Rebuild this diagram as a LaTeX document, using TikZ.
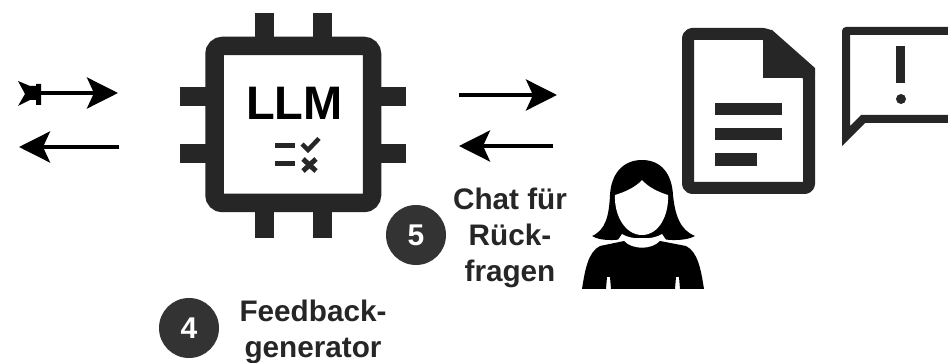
\documentclass[tikz,border=0pt]{standalone}
\usepackage{fontspec}
\setmainfont{Liberation Sans}
\usetikzlibrary{arrows.meta}
\definecolor{ink}{HTML}{262626}
\definecolor{badge}{HTML}{333333}
\tikzset{
  x=1pt,y=-1pt,
  flow/.style={line width=4pt,black,-{Stealth[length=31pt,width=31pt,inset=7pt]}},
  pin/.style={fill=ink,draw=none},
  badgenode/.style={circle,fill=badge,text=white,minimum size=60pt,inner sep=0pt,font=\bfseries\fontsize{30}{30}\selectfont},
  caption/.style={align=center,inner sep=0pt,text=ink,font=\bfseries\fontsize{29.7}{36}\selectfont}
}
\begin{document}
\begin{tikzpicture}
\useasboundingbox (0,0) rectangle (948,363);
\fill[white] (0,0) rectangle (948,363);
% chip pins
\foreach \a in {255,313}{\fill[pin] (\a,13) rectangle (\a+19,40); \fill[pin] (\a,208) rectangle (\a+19,238);}
\foreach \b in {87,144}{\fill[pin] (180,\b) rectangle (208,\b+19); \fill[pin] (378,\b) rectangle (406,\b+19);}
% chip body
\draw[ink,line width=18.5pt,rounded corners=8pt,fill=white] (214.5,46) rectangle (372,203);
\node[inner sep=0pt,anchor=base,font=\bfseries\fontsize{47}{47}\selectfont,text=black] (llm) at (294.5,120) {LLM};
% checklist icon
\draw[ink,line width=4.5pt] (275,145.5) -- (295,145.5) (275,163.5) -- (295,163.5);
\draw[ink,line width=4.5pt] (302,144) -- (308,150) -- (319,138.5);
\draw[ink,line width=5pt] (303,159) -- (316,171) (316,159) -- (303,171);
% arrows
\coordinate (a1s) at (38,93); \coordinate (a1e) at (118,93);
\coordinate (a2s) at (119,147); \coordinate (a2e) at (19,147);
\coordinate (a3s) at (459,95); \coordinate (a3e) at (557,95);
\coordinate (a4s) at (553,146); \coordinate (a4e) at (459,146);
\draw[flow] (a1s) -- (a1e);
\draw[flow] (a2s) -- (a2e);
\draw[flow] (a3s) -- (a3e);
\draw[flow] (a4s) -- (a4e);
% feathered tail
\fill[black] (18,81) -- (30,86) -- (36,86) -- (36,84) -- (41,84) -- (41,105) -- (36,105) -- (36,100) -- (30,100) -- (18,106) -- (25,94) -- cycle;
% document
\draw[ink,line width=12pt,line join=round,rounded corners=4pt,fill=white] (688,34) -- (767,34) -- (809,75) -- (809,188) -- (688,188) -- cycle;
\fill[ink] (763,30) -- (772,30) -- (815,68) -- (815,78) -- (763,78) -- cycle;
\fill[ink] (715,103) rectangle (782,115);
\fill[ink] (715,128) rectangle (782,140);
\fill[ink] (715,153) rectangle (757,166);
% speech bubble
\fill[ink] (948,27) -- (846,27) to[out=180,in=90] (842,31) -- (842,146) -- (865,123) -- (948,123) -- (948,115) -- (861,115) -- (850,126) -- (850,35) -- (948,35) -- cycle;
\fill[ink] (896,46) rectangle (905,83);
\fill[ink] (901,99) circle[radius=5];
% person: hair
\fill[black] (642,160) .. controls (622,160) and (611,175) .. (610,195)
  .. controls (609,215) and (606,230) .. (592,236)
  .. controls (600,241) and (615,241) .. (628,238)
  -- (656,238) .. controls (670,241) and (686,241) .. (695,236)
  .. controls (680,230) and (675,215) .. (673,195)
  .. controls (672,175) and (662,160) .. (642,160) -- cycle;
% person: face
\fill[white] (642,180) .. controls (636,187) and (625,192) .. (615,195)
  .. controls (614,215) and (625,235) .. (642,235)
  .. controls (659,235) and (669,215) .. (668,195)
  .. controls (658,192) and (648,187) .. (642,180) -- cycle;
% person: collar gap and body
\fill[white] (622,234) .. controls (630,240) and (654,240) .. (662,234)
  -- (668,243) .. controls (655,250) and (630,250) .. (616,243) -- cycle;
\fill[black] (582,289) .. controls (585,270) and (588,252) .. (600,246)
  -- (624,241) .. controls (632,250) and (652,250) .. (660,241)
  -- (686,246) .. controls (698,252) and (701,270) .. (704,289)
  -- (680,289) -- (679,277) -- (676,277) -- (675,289) -- (611,289) -- (610,277) -- (607,277) -- (606,289) -- cycle;
% badges and captions
\node[badgenode] (b5) at (416,235) {5};
\node[badgenode] (b4) at (189,328) {4};
\node[caption,anchor=north] (c5) at (510,187.5) {Chat für\\Rück-\\fragen};
\node[caption,anchor=north] (c4) at (313,299.5) {Feedback-\\generator};
\end{tikzpicture}
\end{document}
